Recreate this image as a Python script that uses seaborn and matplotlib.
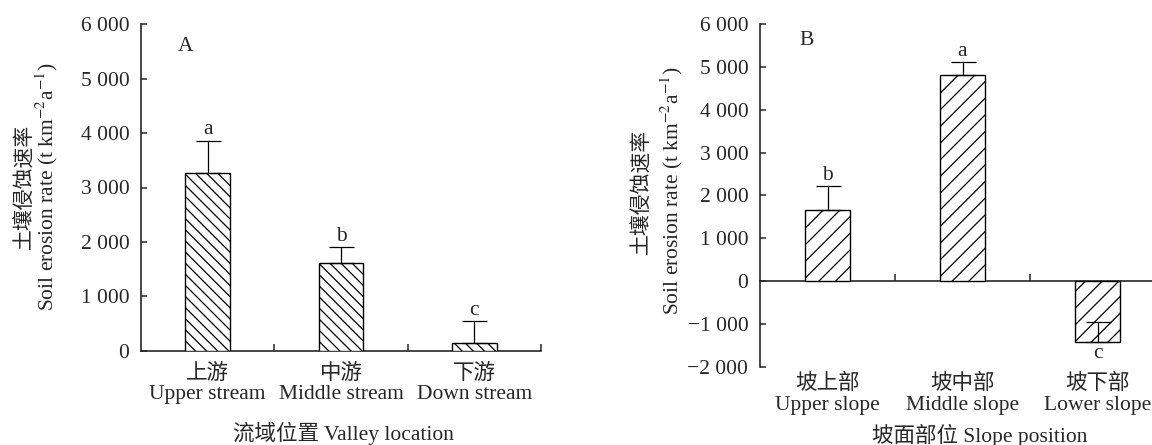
import numpy as np
import pandas as pd
import matplotlib
matplotlib.use("Agg")
import matplotlib.pyplot as plt
import seaborn as sns
from matplotlib.ticker import FuncFormatter

# panel A: valley location
valley_cn = ["上游", "中游", "下游"]
valley_en = ["Upper stream", "Middle stream", "Down stream"]
valley_rate = [3270, 1610, 150]
valley_err = [590, 300, 390]
valley_sig = ["a", "b", "c"]

# panel B: slope position
slope_cn = ["坡上部", "坡中部", "坡下部"]
slope_en = ["Upper slope", "Middle slope", "Lower slope"]
slope_rate = [1660, 4810, -1430]
slope_err = [560, 310, 480]
slope_sig = ["b", "a", "c"]

sns.set_style("ticks")
plt.rcParams["font.family"] = ["Liberation Serif", "Noto Sans CJK SC"]
plt.rcParams["mathtext.fontset"] = "stix"
plt.rcParams["hatch.linewidth"] = 0.9
plt.rcParams["axes.linewidth"] = 1.2

FS = 15.5
W, H = 1152, 445


def px_axes(left, top, right, bottom):
    return [left / W, 1 - bottom / H, (right - left) / W, (bottom - top) / H]


def fmt(v, pos):
    s = f"{int(round(v)):,}".replace(",", " ")
    return s.replace("-", "\u2212")


def draw_panel(ax, cn, en, rate, err, sig, hatch, ylim, yticks, letter, letter_xy,
               xlabel, xlabel_xy, ylab_x, cn_x, ylab_y, xpad):
    df = pd.DataFrame({"pos": [f"{c}\n{e}" for c, e in zip(cn, en)], "rate": rate})
    sns.barplot(data=df, x="pos", y="rate", ax=ax, color="white", edgecolor="black",
                linewidth=1.0, hatch=hatch, width=0.335, errorbar=None, saturation=1)
    x = np.arange(len(rate))
    ax.errorbar(x, rate, yerr=[np.zeros(len(err)), err], fmt="none", ecolor="black",
                elinewidth=0.9, capsize=9, capthick=0.9, zorder=5)
    for xi, v, e, s in zip(x, rate, err, sig):
        if v >= 0:
            ax.annotate(s, (xi, v + e), xytext=(0, 4.5), textcoords="offset points",
                        ha="center", va="baseline", fontsize=FS)
        else:
            ax.annotate(s, (xi, v), xytext=(0, -11.5), textcoords="offset points",
                        ha="center", va="baseline", fontsize=FS)

    ax.set_xlim(-0.5, 2.5)
    ax.set_ylim(*ylim)
    ax.set_yticks(yticks)
    ax.yaxis.set_major_formatter(FuncFormatter(fmt))
    ax.tick_params(axis="y", direction="in", length=4, width=1.1, pad=8.4, labelsize=FS)
    ax.tick_params(axis="x", length=0, pad=xpad, labelsize=FS)
    for lab in ax.get_xticklabels():
        lab.set_linespacing(1.12)
    sns.despine(ax=ax, top=True, right=True, bottom=True)

    # baseline at zero with category separators
    loc = (0 - ylim[0]) / (ylim[1] - ylim[0])
    sec = ax.secondary_xaxis(loc)
    sec.set_xticks([0.5, 1.5, 2.5])
    sec.set_xticklabels(["", "", ""])
    sec.tick_params(direction="in", length=5, width=1.1)
    sec.spines["bottom"].set_linewidth(1.2)

    ax.set_xlabel(xlabel, fontsize=FS)
    ax.xaxis.set_label_coords(*xlabel_xy)
    ax.xaxis.label.set_va("center")
    ax.set_ylabel("Soil erosion rate (t km$^{-2}$a$^{-1}$)", fontsize=FS)
    ax.yaxis.set_label_coords(ylab_x, ylab_y)
    ax.yaxis.label.set_va("center")
    ax.text(cn_x, ylab_y, "土壤侵蚀速率", transform=ax.transAxes, rotation=90,
            ha="center", va="center", fontsize=FS - 0.5)
    ax.text(*letter_xy, letter, transform=ax.transAxes, ha="center", va="center",
            fontsize=FS)


fig = plt.figure(figsize=(W / 100, H / 100), dpi=100)
ax1 = fig.add_axes(px_axes(141, 24.3, 541, 350.7))
ax2 = fig.add_axes(px_axes(760, 24.3, 1165, 366.7))

draw_panel(ax1, valley_cn, valley_en, valley_rate, valley_err, valley_sig, "\\\\\\",
           (0, 6000), range(0, 6001, 1000), "A", (0.1125, 0.931),
           "流域位置 Valley location", (0.505, -0.252), -0.235, -0.29, 0.502, 9.4)
draw_panel(ax2, slope_cn, slope_en, slope_rate, slope_err, slope_sig, "//",
           (-2000, 6000), range(-2000, 6001, 1000), "B", (0.116, 0.954),
           "坡面部位 Slope position", (0.543, -0.2), -0.217, -0.289, 0.513, 5.5)

fig.savefig("out.png", dpi=100)
